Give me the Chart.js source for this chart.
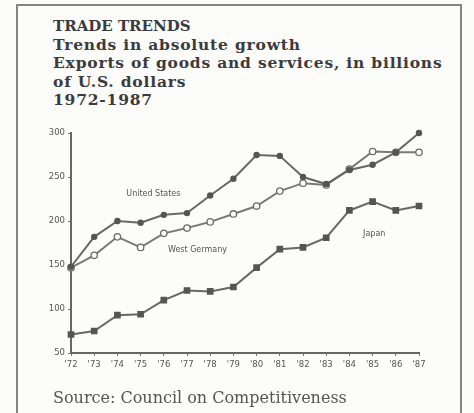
<!DOCTYPE html>
<html>
<head>
<meta charset="utf-8">
<script src="https://cdn.jsdelivr.net/npm/chart.js@4/dist/chart.umd.min.js"></script>
<style>
  html, body { margin: 0; padding: 0; background: #fcfcfb; overflow: hidden; }
  #pagina { position: relative; width: 474px; height: 413px; }
  #moldura {
    position: absolute; left: 16px; top: 4px; width: 446px; height: 430px;
    border: 2px solid #858585; box-sizing: border-box;
  }
  #titulo {
    position: absolute; left: 53px; top: 17px;
    font-family: "DejaVu Serif", serif; font-weight: bold;
    font-size: 15.5px; line-height: 18.6px; color: #3b3b3b; letter-spacing: 0.8px;
  }
  #titulo .chapeu { font-size: 15px; letter-spacing: 0; }
  #fonte {
    position: absolute; left: 53px; top: 388px;
    font-family: "DejaVu Serif", serif; font-size: 16px; color: #555;
  }
  #grafico { position: absolute; left: 0; top: 0; }
</style>
</head>
<body>
<div id="pagina">
  <div id="moldura"></div>
  <div id="titulo"><span class="chapeu">TRADE TRENDS</span><br>Trends in absolute growth<br>Exports of goods and services, in billions<br>of U.S. dollars<br>1972-1987</div>
  <canvas id="grafico" width="474" height="413"></canvas>
  <div id="fonte">Source: Council on Competitiveness</div>
</div>
<script>
// Anos e séries (bilhões de US$)
const anos = ["'72", "'73", "'74", "'75", "'76", "'77", "'78", "'79", "'80", "'81", "'82", "'83", "'84", "'85", "'86", "'87"];
const estadosUnidos = [148, 182, 200, 198, 207, 209, 229, 248, 275, 274, 250, 242, 258, 264, 278, 300];
const alemanhaOcidental = [147, 161, 182, 170, 186, 192, 199, 208, 217, 234, 243, 241, 259, 279, 278, 278];
const japao = [71, 75, 93, 94, 110, 121, 120, 125, 147, 168, 170, 181, 212, 222, 212, 217];
const ticksY = [50, 100, 150, 200, 250, 300];

// Rótulos das séries, posicionados em coordenadas de dados
const rotulos = [
    { texto: 'United States', x: 3.55, y: 231 },
    { texto: 'West Germany', x: 5.45, y: 167 },
    { texto: 'Japan', x: 13.07, y: 185 }
];

const corLinha = '#686868';
const fonteEixo = { family: 'DejaVu Sans', size: 8.5 };

const pluginRotulos = {
    id: 'rotulos',
    afterDatasetsDraw(chart) {
        const ctx = chart.ctx;
        const sx = chart.scales.x, sy = chart.scales.y;
        ctx.save();
        ctx.font = '8px "DejaVu Sans", sans-serif';
        ctx.fillStyle = '#555';
        ctx.textAlign = 'center';
        ctx.textBaseline = 'middle';
        rotulos.forEach(r => {
            ctx.fillText(r.texto, sx.getPixelForValue(r.x), sy.getPixelForValue(r.y));
        });
        ctx.restore();
    }
};

const dados = {
    labels: anos,
    datasets: [
        {
            label: 'United States',
            data: estadosUnidos,
            borderColor: corLinha,
            pointBackgroundColor: '#555',
            pointBorderColor: '#555',
            pointRadius: 2.2,
            borderWidth: 2,
            clip: false
        },
        {
            label: 'West Germany',
            data: alemanhaOcidental,
            borderColor: '#7a7a7a',
            pointBackgroundColor: '#fff',
            pointBorderColor: '#6a6a6a',
            pointBorderWidth: 1.3,
            pointRadius: 3.2,
            borderWidth: 2,
            clip: false
        },
        {
            label: 'Japan',
            data: japao,
            borderColor: corLinha,
            pointStyle: 'rect',
            pointBackgroundColor: '#555',
            pointBorderColor: '#555',
            pointRadius: 3.3,
            borderWidth: 2,
            clip: false
        }
    ]
};

const opcoes = {
    responsive: false,
    animation: false,
    layout: { padding: { left: 0, top: 133, right: 55, bottom: 40 } },
    plugins: { legend: { display: false }, tooltip: { enabled: false } },
    scales: {
        x: {
            offset: false,
            grid: { drawOnChartArea: false, drawTicks: true, tickLength: 3, color: '#777' },
            border: { display: true, color: '#666', width: 2 },
            ticks: { color: '#555', padding: 4, maxRotation: 0, autoSkip: false, font: fonteEixo },
            afterFit(scale) { scale.height = 20; }
        },
        y: {
            min: 50,
            max: 300,
            afterBuildTicks(scale) { scale.ticks = ticksY.map(v => ({ value: v })); },
            grid: { drawOnChartArea: false, drawTicks: true, tickLength: 3, color: '#777' },
            border: { display: true, color: '#666', width: 2 },
            ticks: { color: '#555', padding: 3, font: fonteEixo },
            afterFit(scale) { scale.width = 71; }
        }
    }
};

new Chart(document.getElementById('grafico'), {
    type: 'line',
    data: dados,
    options: opcoes,
    plugins: [pluginRotulos]
});
</script>
</body>
</html>
